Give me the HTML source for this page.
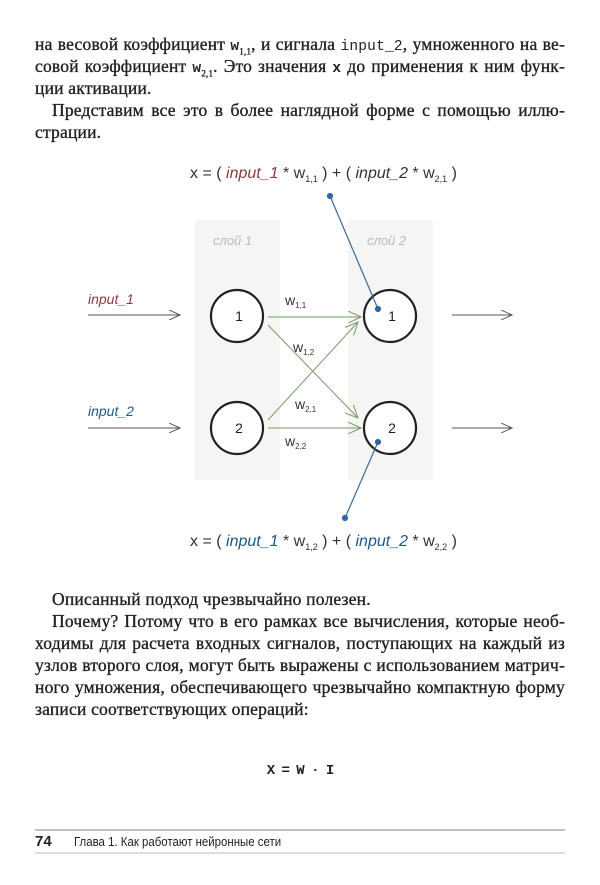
<!DOCTYPE html>
<html><head><meta charset="utf-8"><style>
body{margin:0;width:600px;height:885px;background:#fff;position:relative;overflow:hidden;font-family:"Liberation Serif",serif;color:#222}
.t{position:absolute;left:35px;width:530px;font-size:17.5px;letter-spacing:0.2px;text-align:justify;text-align-last:justify;white-space:nowrap;-webkit-text-stroke:0.35px #222}
.l{text-align-last:left}
.m{font-family:"Liberation Mono",monospace;font-size:14.5px;-webkit-text-stroke:0}
sub{font-size:9px}
</style></head><body>
<div class="t" style="top:34px">на весовой коэффициент <span class="m"><b>w</b></span><sub>1,1</sub>, и сигнала <span class="m">input_2</span>, умноженного на ве-</div>
<div class="t" style="top:56px">совой коэффициент <span class="m"><b>w</b></span><sub>2,1</sub>. Это значения <span class="m"><b>x</b></span> до применения к ним функ-</div>
<div class="t l" style="top:78px">ции активации.</div>
<div class="t" style="top:100px;left:52px;width:513px">Представим все это в более наглядной форме с помощью иллю-</div>
<div class="t l" style="top:122px">страции.</div>

<svg style="position:absolute;left:0;top:0" width="600" height="885">
<defs><marker id="a" markerWidth="12" markerHeight="10" refX="11" refY="5" orient="auto" markerUnits="userSpaceOnUse"><path d="M0,0 L11,5 L0,10" fill="none" stroke="#555" stroke-width="1"/></marker>
<marker id="g" markerWidth="14" markerHeight="12" refX="13" refY="6" orient="auto" markerUnits="userSpaceOnUse"><path d="M0,0 L13,6 L0,12" fill="none" stroke="#7a9a6a" stroke-width="1"/></marker></defs>
<rect x="195" y="220" width="85" height="260" fill="#f5f5f3"/>
<rect x="348" y="220" width="85" height="260" fill="#f5f5f3"/>
<g font-family="Liberation Sans,sans-serif">
<text x="213" y="245" font-size="13" fill="#bbb" font-style="italic">слой 1</text>
<text x="367" y="245" font-size="13" fill="#bbb" font-style="italic">слой 2</text>
<text x="190" y="178" font-size="16" fill="#333">x = ( <tspan fill="#8a3b3b" font-style="italic">input_1</tspan> * w<tspan font-size="9" dy="4">1,1</tspan><tspan dy="-4"> ) + ( </tspan><tspan font-style="italic">input_2</tspan> * w<tspan font-size="9" dy="4">2,1</tspan><tspan dy="-4"> )</tspan></text>
<text x="190" y="546" font-size="16" fill="#333">x = ( <tspan fill="#1a5a8a" font-style="italic">input_1</tspan> * w<tspan font-size="9" dy="4">1,2</tspan><tspan dy="-4"> ) + ( </tspan><tspan fill="#1a5a8a" font-style="italic">input_2</tspan> * w<tspan font-size="9" dy="4">2,2</tspan><tspan dy="-4"> )</tspan></text>
<text x="88" y="304" font-size="14" fill="#8a3b3b" font-style="italic">input_1</text>
<text x="88" y="416" font-size="14" fill="#1a5a8a" font-style="italic">input_2</text>
<text x="285" y="305" font-size="14" fill="#333">w<tspan font-size="8" dy="3">1,1</tspan></text>
<text x="293" y="352" font-size="14" fill="#333">w<tspan font-size="8" dy="3">1,2</tspan></text>
<text x="295" y="409" font-size="14" fill="#333">w<tspan font-size="8" dy="3">2,1</tspan></text>
<text x="285" y="446" font-size="14" fill="#333">w<tspan font-size="8" dy="3">2,2</tspan></text>
</g>
<g stroke="#555" stroke-width="1" fill="none">
<line x1="88" y1="315" x2="180" y2="315" marker-end="url(#a)"/>
<line x1="88" y1="428" x2="180" y2="428" marker-end="url(#a)"/>
<line x1="452" y1="315" x2="512" y2="315" marker-end="url(#a)"/>
<line x1="452" y1="428" x2="512" y2="428" marker-end="url(#a)"/>
</g>
<g stroke="#7a9a6a" stroke-width="1" fill="none">
<line x1="268" y1="317" x2="361" y2="317" marker-end="url(#g)"/>
<line x1="268" y1="428" x2="361" y2="428" marker-end="url(#g)"/>
<line x1="268" y1="325" x2="358" y2="418" marker-end="url(#g)"/>
<line x1="268" y1="420" x2="358" y2="322" marker-end="url(#g)"/>
</g>
<g stroke="#222" stroke-width="2.2" fill="#fff">
<circle cx="237" cy="316" r="26"/><circle cx="390" cy="316" r="26"/>
<circle cx="237" cy="428" r="26"/><circle cx="390" cy="428" r="26"/>
</g>
<g font-family="Liberation Sans,sans-serif" font-size="14" fill="#222" text-anchor="middle">
<text x="239" y="321">1</text><text x="392" y="321">1</text><text x="239" y="433">2</text><text x="392" y="433">2</text>
</g>
<g stroke="#3a6a9a" stroke-width="1.2" fill="#2a66aa">
<line x1="330" y1="196" x2="378" y2="309"/><circle cx="330" cy="196" r="2.5"/><circle cx="378" cy="309" r="2.5"/>
<line x1="378" y1="442" x2="345" y2="518"/><circle cx="378" cy="442" r="2.5"/><circle cx="345" cy="518" r="2.5"/>
</g>
<line x1="35" y1="830" x2="565" y2="830" stroke="#999" stroke-width="1.2"/>
<line x1="35" y1="853" x2="565" y2="853" stroke="#bbb" stroke-width="1"/>
</svg>

<div class="t l" style="top:589px;left:52px">Описанный подход чрезвычайно полезен.</div>
<div class="t" style="top:611px;left:52px;width:513px">Почему? Потому что в его рамках все вычисления, которые необ-</div>
<div class="t" style="top:633px">ходимы для расчета входных сигналов, поступающих на каждый из</div>
<div class="t" style="top:655px">узлов второго слоя, могут быть выражены с использованием матрич-</div>
<div class="t" style="top:677px">ного умножения, обеспечивающего чрезвычайно компактную форму</div>
<div class="t l" style="top:699px">записи соответствующих операций:</div>
<div style="position:absolute;top:763px;left:0;width:600px;text-align:center;font-family:'Liberation Mono',monospace;font-weight:bold;font-size:14px;letter-spacing:-1px">X = W · I</div>
<div style="position:absolute;top:833px;left:35px;font-family:'Liberation Sans',sans-serif;font-size:14px;"><b style="font-size:15px">74</b><span style="margin-left:22px;font-size:13px;transform:scaleX(.88);display:inline-block;transform-origin:left">Глава 1. Как работают нейронные сети</span></div>
</body></html>
